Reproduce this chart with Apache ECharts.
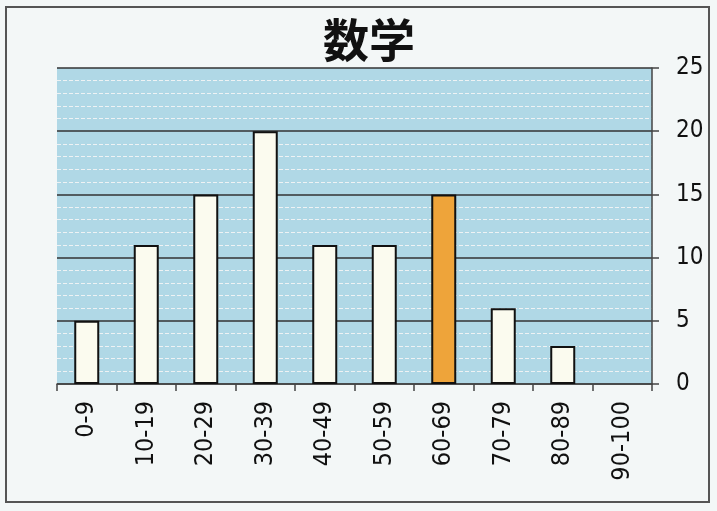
<!DOCTYPE html>
<html><head><meta charset="utf-8">
<script src="https://cdn.jsdelivr.net/npm/echarts@6/dist/echarts.min.js"></script>
<style>html,body{margin:0;padding:0;background:#f3f7f7}#c{width:717px;height:511px}</style>
</head><body><div id="c"></div>
<script>
const categories = ['0-9','10-19','20-29','30-39','40-49','50-59','60-69','70-79','80-89','90-100'];
const counts = [5,11,15,20,11,11,15,6,3,0];
const highlightIndex = 6;
const yTicks = [0,5,10,15,20,25];

const chart = echarts.init(document.getElementById('c'));
chart.setOption({
  backgroundColor: '#f3f7f7',
  animation: false,
  title: {text: '数学', left: 318, top: 12,
    textStyle: {fontFamily: 'Noto Sans CJK JP', fontSize: 46, fontWeight: 'bold', color: '#111'}},
  grid: {left: 57, right: 65, top: 68, bottom: 127, show: true, backgroundColor: '#b0d8e6', borderWidth: 0},
  graphic: [{type: 'rect', shape: {x: 6, y: 7, width: 703, height: 495}, style: {fill: 'none', stroke: '#555', lineWidth: 2}}],
  xAxis: {type: 'category', data: categories,
    axisLine: {lineStyle: {color: '#444', width: 1.5}},
    axisTick: {show: true, length: 7, lineStyle: {color: '#444', width: 1.5}},
    axisLabel: {rotate: 90, color: '#111', fontSize: 25, fontFamily: 'DejaVu Sans Condensed', margin: 17}},
  yAxis: {type: 'value', position: 'right', min: 0, max: 25, interval: 5,
    axisLine: {show: true, lineStyle: {color: '#444', width: 1.5}},
    axisTick: {show: true, length: 7, lineStyle: {color: '#444', width: 1.5}},
    axisLabel: {color: '#111', fontSize: 24, fontFamily: 'DejaVu Sans Condensed', margin: 24,
      formatter: v => yTicks.includes(v) ? String(v) : ''},
    splitLine: {lineStyle: {color: '#333', width: 1.5}},
    minorTick: {show: false, splitNumber: 5},
    minorSplitLine: {show: true, lineStyle: {color: '#eef2f4', width: 1, type: 'dashed'}}},
  series: [{type: 'bar', barWidth: 25,
    data: counts.map((v, i) => ({value: v,
      itemStyle: i === highlightIndex ? {color: '#eea43a'} : (v === 0 ? {borderWidth: 0} : {})})),
    itemStyle: {color: '#fbfbef', borderColor: '#111', borderWidth: 2}}]
});
</script></body></html>
